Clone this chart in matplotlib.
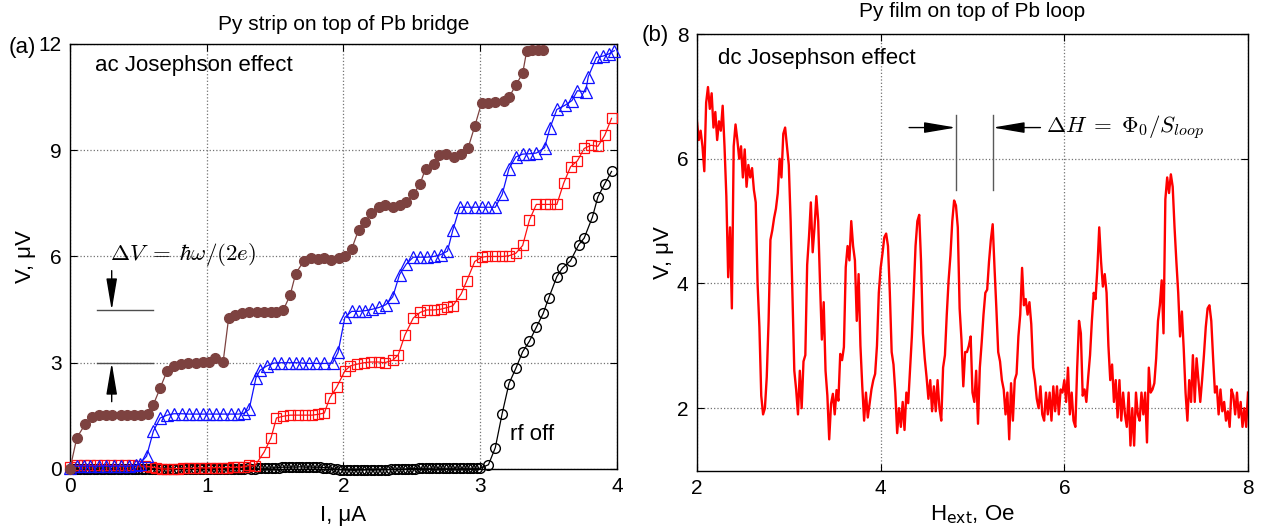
import numpy as np
import matplotlib
matplotlib.use("Agg")
import matplotlib.pyplot as plt

plt.rcParams['font.family'] = ['Liberation Sans', 'DejaVu Sans']
plt.rcParams['font.size'] = 15

# ---- (a) I-V curves of the Py strip / Pb bridge ----
i_brown = [0, 0.05, 0.11, 0.16, 0.21, 0.26, 0.31, 0.37, 0.42, 0.47,
           0.52, 0.57, 0.61, 0.66, 0.71, 0.76, 0.81, 0.86, 0.92, 0.97,
           1.02, 1.06, 1.12, 1.16, 1.21, 1.26, 1.31, 1.37, 1.42, 1.47,
           1.51, 1.56, 1.61, 1.65, 1.71, 1.76, 1.81, 1.86, 1.91, 1.97,
           2.01, 2.06, 2.11, 2.16, 2.20, 2.26, 2.30, 2.36, 2.41, 2.46,
           2.51, 2.56, 2.60, 2.66, 2.70, 2.75, 2.81, 2.86, 2.91, 2.96,
           3.01, 3.06, 3.11, 3.17, 3.21, 3.26, 3.31, 3.34, 3.38, 3.42, 3.46]
v_brown = [0, 0.88, 1.26, 1.46, 1.52, 1.52, 1.51, 1.51, 1.52, 1.52,
           1.51, 1.54, 1.82, 2.29, 2.77, 2.91, 2.96, 2.99, 2.99, 3.01,
           3.01, 3.14, 3.03, 4.26, 4.35, 4.41, 4.42, 4.42, 4.42, 4.42,
           4.42, 4.49, 4.91, 5.51, 5.88, 5.95, 5.93, 5.95, 5.90, 5.95,
           6.02, 6.21, 6.75, 6.97, 7.22, 7.39, 7.44, 7.41, 7.44, 7.54,
           7.75, 8.05, 8.48, 8.60, 8.86, 8.88, 8.81, 8.90, 9.05, 9.68,
           10.34, 10.34, 10.37, 10.40, 10.49, 10.84, 11.17, 11.81, 11.83, 11.83, 11.83]

i_blue = [0, 0.05, 0.1, 0.15, 0.21, 0.26, 0.32, 0.37, 0.43, 0.48,
          0.51, 0.56, 0.61, 0.66, 0.71, 0.76, 0.82, 0.87, 0.92, 0.97,
          1.02, 1.07, 1.12, 1.18, 1.23, 1.27, 1.31, 1.36, 1.39, 1.44,
          1.49, 1.54, 1.60, 1.65, 1.70, 1.75, 1.80, 1.86, 1.92, 1.96,
          2.01, 2.06, 2.11, 2.16, 2.21, 2.26, 2.31, 2.36, 2.41, 2.46,
          2.51, 2.56, 2.61, 2.66, 2.71, 2.76, 2.80, 2.85, 2.90, 2.96,
          3.01, 3.06, 3.11, 3.16, 3.21, 3.26, 3.31, 3.36, 3.41, 3.47,
          3.51, 3.56, 3.62, 3.67, 3.71, 3.77, 3.79, 3.85, 3.90, 3.94, 3.98]
v_blue = [0.02, 0.08, 0.08, 0.08, 0.08, 0.08, 0.08, 0.08, 0.08, 0.1,
          0.15, 0.36, 1.07, 1.44, 1.52, 1.56, 1.56, 1.55, 1.55, 1.55,
          1.55, 1.55, 1.55, 1.55, 1.55, 1.57, 1.68, 2.58, 2.79, 2.91,
          2.99, 3.0, 3.0, 3.0, 2.99, 2.98, 2.98, 2.98, 2.99, 3.29,
          4.28, 4.45, 4.45, 4.47, 4.51, 4.56, 4.64, 4.86, 5.49, 5.79,
          5.98, 5.98, 5.98, 6.0, 6.05, 6.15, 6.75, 7.39, 7.39, 7.39,
          7.39, 7.39, 7.39, 7.75, 8.48, 8.81, 8.89, 8.90, 8.92, 9.07,
          9.63, 10.15, 10.27, 10.40, 10.68, 10.65, 11.08, 11.62, 11.66, 11.72, 11.81]

i_red = [0, 0.05, 0.1, 0.15, 0.2, 0.25, 0.3, 0.35, 0.4, 0.45,
         0.5, 0.55, 0.59, 0.63, 0.67, 0.71, 0.75, 0.79, 0.83, 0.87,
         0.91, 0.95, 0.99, 1.03, 1.07, 1.11, 1.15, 1.19, 1.23, 1.27,
         1.31, 1.35, 1.42, 1.47, 1.51, 1.56, 1.61, 1.67, 1.72, 1.77,
         1.81, 1.86, 1.90, 1.95, 2.01, 2.05, 2.10, 2.15, 2.20, 2.26,
         2.30, 2.36, 2.40, 2.45, 2.51, 2.56, 2.61, 2.66, 2.71, 2.76,
         2.80, 2.86, 2.90, 2.96, 3.01, 3.05, 3.11, 3.16, 3.21, 3.26,
         3.31, 3.36, 3.41, 3.47, 3.51, 3.56, 3.61, 3.66, 3.71, 3.76,
         3.81, 3.86, 3.91, 3.96]
v_red = [0.05, 0.1, 0.1, 0.1, 0.1, 0.1, 0.1, 0.1, 0.1, 0.1,
         0.08, 0.08, 0.06, 0.04, 0.0, 0.0, 0.01, 0.01, 0.02, 0.02,
         0.02, 0.03, 0.03, 0.03, 0.04, 0.04, 0.04, 0.05, 0.05, 0.06,
         0.1, 0.08, 0.48, 0.88, 1.44, 1.49, 1.52, 1.52, 1.52, 1.52,
         1.54, 1.58, 2.01, 2.31, 2.77, 2.91, 2.96, 3.00, 3.02, 3.02,
         3.00, 3.07, 3.22, 3.79, 4.26, 4.42, 4.49, 4.49, 4.51, 4.56,
         4.61, 4.94, 5.30, 5.86, 5.98, 6.00, 6.00, 6.00, 6.02, 6.09,
         6.31, 7.03, 7.47, 7.47, 7.47, 7.47, 8.07, 8.53, 8.70, 9.05,
         9.14, 9.11, 9.42, 9.90]

# rf off: flat zero-voltage branch, then the normal branch
i_black = [0.000, 0.025, 0.050, 0.075, 0.100, 0.125, 0.150, 0.175, 0.200, 0.225,
           0.250, 0.275, 0.300, 0.325, 0.350, 0.375, 0.400, 0.425, 0.450, 0.475,
           0.500, 0.525, 0.550, 0.575, 0.600, 0.625, 0.650, 0.675, 0.700, 0.725,
           0.750, 0.775, 0.800, 0.825, 0.850, 0.875, 0.900, 0.925, 0.950, 0.975,
           1.000, 1.025, 1.050, 1.075, 1.100, 1.125, 1.150, 1.175, 1.200, 1.225,
           1.250, 1.275, 1.300, 1.325, 1.350, 1.375, 1.400, 1.425, 1.450, 1.475,
           1.500, 1.525, 1.550, 1.575, 1.600, 1.625, 1.650, 1.675, 1.700, 1.725,
           1.750, 1.775, 1.800, 1.825, 1.850, 1.875, 1.900, 1.925, 1.950, 1.975,
           2.000, 2.025, 2.050, 2.075, 2.100, 2.125, 2.150, 2.175, 2.200, 2.225,
           2.250, 2.275, 2.300, 2.325, 2.350, 2.375, 2.400, 2.425, 2.450, 2.475,
           2.500, 2.525, 2.550, 2.575, 2.600, 2.625, 2.650, 2.675, 2.700, 2.725,
           2.750, 2.775, 2.800, 2.825, 2.850, 2.875, 2.900, 2.925, 2.950, 2.975,
           3.000, 3.06, 3.11, 3.16, 3.21, 3.26, 3.31, 3.36, 3.41, 3.46,
           3.50, 3.56, 3.60, 3.66, 3.72, 3.76, 3.82, 3.86, 3.91, 3.96]
v_black = [0.00, 0.00, 0.01, 0.00, 0.00, 0.01, 0.00, 0.00, 0.00, 0.01,
           0.00, 0.00, 0.01, 0.00, 0.00, 0.00, 0.01, 0.00, 0.00, 0.00,
           0.01, 0.01, 0.00, 0.01, 0.01, 0.00, 0.01, 0.01, 0.01, 0.00,
           0.01, 0.01, 0.01, 0.00, 0.01, 0.01, 0.01, 0.01, 0.00, 0.01,
           0.01, 0.01, 0.01, 0.01, 0.00, 0.01, 0.01, 0.01, 0.01, 0.01,
           0.01, 0.01, 0.02, 0.01, 0.01, 0.02, 0.02, 0.02, 0.02, 0.03,
           0.03, 0.04, 0.05, 0.05, 0.05, 0.06, 0.05, 0.06, 0.06, 0.05,
           0.06, 0.05, 0.05, 0.05, 0.04, 0.04, 0.03, 0.01, -0.01, -0.02,
           -0.03, -0.03, -0.03, -0.04, -0.03, -0.03, -0.03, -0.02, -0.03, -0.03,
           -0.02, -0.02, -0.02, -0.02, -0.01, -0.01, -0.01, 0.00, 0.00, 0.01,
           0.01, 0.01, 0.02, 0.02, 0.02, 0.02, 0.02, 0.03, 0.02, 0.02,
           0.02, 0.02, 0.02, 0.03, 0.02, 0.02, 0.02, 0.02, 0.02, 0.02,
           0.02, 0.12, 0.60, 1.56, 2.41, 2.84, 3.31, 3.61, 4.00, 4.39,
           4.82, 5.43, 5.67, 5.88, 6.33, 6.52, 7.11, 7.68, 8.05, 8.40]

# ---- (b) voltage oscillations vs applied field ----
h_field = np.round(np.arange(2.0, 8.001, 0.02), 2)
v_field = [
    6.6, 6.3, 6.45, 6.2, 5.8, 6.9, 7.15, 6.8, 7.05, 6.5,
    6.75, 6.3, 6.6, 6.45, 6.85, 6.2, 5.4, 4.1, 4.9, 3.6,
    6.2, 6.55, 6.3, 6.0, 6.2, 5.7, 6.15, 5.55, 5.9, 5.7,
    5.85, 5.5, 5.3, 4.0, 3.3, 2.2, 1.9, 2.0, 2.5, 3.4,
    4.7, 4.85, 5.05, 5.2, 5.45, 6.0, 5.7, 6.4, 6.5, 6.2,
    5.9, 5.0, 3.8, 2.6, 2.3, 1.9, 2.6, 2.0, 2.75, 2.85,
    4.3, 4.75, 5.3, 4.5, 4.9, 5.4, 5.0, 4.0, 3.1, 3.7,
    2.6, 2.2, 1.5,
    2.07, 2.23, 1.9, 2.29, 2.12, 2.87, 2.77, 2.98, 4.26, 4.6,
    4.37, 5.0, 4.6, 4.37, 3.4, 4.15, 3.0, 2.35, 1.8, 2.25,
    1.85, 2.08, 2.3, 2.45, 2.55, 3.0, 3.85, 4.25, 4.48, 4.74,
    4.8, 4.6, 3.85, 2.9, 2.7, 2.25, 1.6, 2.0, 1.7, 2.1,
    1.65, 2.25, 2.08, 2.6, 3.15, 3.85, 4.6, 5.0, 5.1, 4.35,
    3.2, 2.8, 2.5, 2.15, 2.45, 1.95, 2.35, 1.95, 2.45, 2.0,
    1.8, 2.65, 2.85, 3.5, 4.05, 4.45, 5.0, 5.33, 5.25, 4.9,
    3.6, 3.1, 2.35, 2.9, 2.9,
    3.0, 3.15, 2.25, 2.1, 2.6, 1.75, 2.65, 3.05, 3.5, 3.85,
    3.9, 4.35, 4.7, 4.95, 4.25, 3.6, 2.9, 2.75, 2.45, 2.3,
    1.9, 2.25, 1.5, 2.4, 1.8, 2.45, 2.55, 3.15, 3.5, 4.25,
    3.65, 3.75, 3.5, 3.7, 3.35, 2.65, 2.45, 2.15, 2.0, 2.35,
    1.9, 1.8, 2.25, 1.9, 2.25, 1.8, 2.35, 1.95, 2.35, 1.9,
    2.3, 2.25, 2.45, 2.1, 2.65, 1.9, 2.25, 1.8, 1.7, 2.65,
    3.4, 3.2, 2.2, 2.3, 2.1, 2.5, 2.85, 3.4, 3.85, 3.75,
    4.25, 4.9, 4.35, 3.95,
    4.15, 3.85, 3.0, 2.45, 2.7, 2.1, 2.45, 1.85, 2.45, 1.8,
    2.25, 1.9, 1.7, 2.25, 1.4, 2.0, 1.4, 2.25, 1.9, 1.8,
    2.25, 1.9, 2.25, 1.45, 2.65, 2.25, 2.3, 2.4, 2.8, 3.4,
    3.65, 4.05, 3.2, 5.35, 5.7, 5.45, 5.75, 5.55, 4.9, 4.35,
    3.85, 3.15, 3.55, 2.95, 2.25, 1.8, 2.45, 2.1, 2.85, 2.1,
    2.8, 2.45, 2.1, 2.45, 2.85, 3.3, 3.6, 3.65, 3.4, 2.8,
    2.25, 2.35, 1.9, 2.3, 1.95, 2.1, 1.8, 1.95, 1.7, 2.3,
    2.2, 1.9, 2.25, 1.85, 2.1, 1.7, 2.0, 1.7, 2.25,
]

brown = '#7d4240'

fig = plt.figure(figsize=(12.61, 5.31), dpi=100)
ax1 = fig.add_axes([0.0555, 0.1168, 0.4338, 0.8004])
ax2 = fig.add_axes([0.5527, 0.1139, 0.4370, 0.8220])

for ax in (ax1, ax2):
    ax.grid(True, linestyle=':', color='0.45', linewidth=0.9)
    ax.tick_params(direction='in', top=True, right=True, length=5,
                   labelsize=15, pad=6)
    for s in ax.spines.values():
        s.set_linewidth(1.0)

ax1.plot(i_black, v_black, '-o', color='black', mfc='none', ms=7, mew=1.0,
         lw=0.9, clip_on=False, zorder=3)
ax1.plot(i_red, v_red, '-s', color='#ff1010', mfc='none', ms=6.5, mew=0.9,
         lw=0.9, clip_on=False, zorder=4)
ax1.plot(i_blue, v_blue, '-^', color='#1010ff', mfc='none', ms=8.5, mew=0.9,
         lw=0.9, clip_on=False, zorder=5)
ax1.plot(i_brown, v_brown, '-o', color=brown, mfc=brown, mec=brown, ms=7,
         lw=0.9, clip_on=False, zorder=6)

ax1.set_xlim(0, 4)
ax1.set_ylim(0, 12)
ax1.set_xticks([0, 1, 2, 3, 4])
ax1.set_yticks([0, 3, 6, 9, 12])
ax1.set_xlabel('I, μA', fontsize=16, labelpad=6)
ax1.set_ylabel('V, μV', fontsize=16, labelpad=2)
ax1.set_title('Py strip on top of Pb bridge', fontsize=15, pad=10)

ax1.text(0.18, 11.4, 'ac Josephson effect', fontsize=16, va='center')
ax1.text(0.83, 6.05, r'$\Delta V\;=\;\hbar\omega/(2e)$', fontsize=16.5,
         math_fontfamily='cm', va='center', ha='center')
ax1.text(3.22, 0.97, 'rf off', fontsize=16, va='center')

# step height marks
ax1.plot([0.2, 0.61], [4.48, 4.48], color='0.3', lw=1.0)
ax1.plot([0.2, 0.61], [3.0, 3.0], color='0.3', lw=1.0)
arrow_kw = dict(arrowstyle='-|>,head_length=1.3,head_width=0.22', color='black',
                lw=1.0, mutation_scale=15, shrinkA=0, shrinkB=0)
ax1.annotate('', xy=(0.305, 4.48), xytext=(0.305, 5.6), arrowprops=arrow_kw)
ax1.annotate('', xy=(0.305, 3.0), xytext=(0.305, 1.9), arrowprops=arrow_kw)

ax2.plot(h_field, v_field, color='#ff0000', lw=1.7)
ax2.set_xlim(2, 8)
ax2.set_ylim(1, 8)
ax2.set_xticks([2, 4, 6, 8])
ax2.set_yticks([2, 4, 6, 8])
ax2.set_xlabel(r'H$_{\rm ext}$, Oe', fontsize=16, labelpad=4)
ax2.set_ylabel('V, μV', fontsize=16, labelpad=2)
ax2.set_title('Py film on top of Pb loop', fontsize=15, pad=12)

ax2.text(2.23, 7.6, 'dc Josephson effect', fontsize=16, va='center')
ax2.plot([4.82, 4.82], [5.5, 6.7], color='0.35', lw=1.0)
ax2.plot([5.22, 5.22], [5.5, 6.7], color='0.35', lw=1.0)
ax2.annotate('', xy=(4.82, 6.5), xytext=(4.31, 6.5), arrowprops=arrow_kw)
ax2.annotate('', xy=(5.22, 6.5), xytext=(5.74, 6.5), arrowprops=arrow_kw)
ax2.text(5.8, 6.5, r'$\Delta H\;=\;\Phi_0/S_{loop}$', fontsize=16.5,
         math_fontfamily='cm', va='center', ha='left')

fig.text(22 / 1261, 1 - 47 / 531, '(a)', fontsize=16, ha='center', va='center')
fig.text(655 / 1261, 1 - 35 / 531, '(b)', fontsize=16, ha='center', va='center')

fig.savefig('out.png', dpi=100)
